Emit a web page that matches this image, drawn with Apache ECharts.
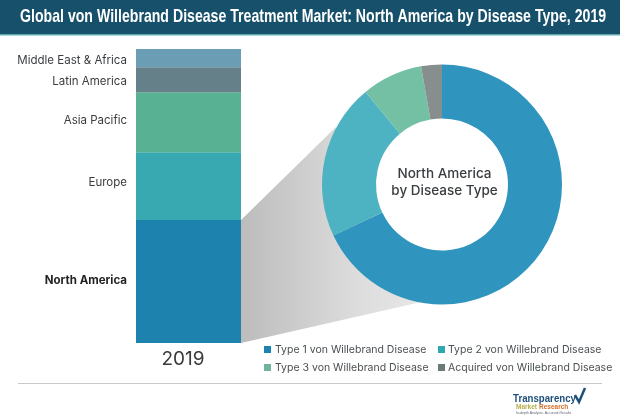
<!DOCTYPE html>
<html><head><meta charset="utf-8">
<style>html,body{margin:0;padding:0;background:#fff}#c{width:620px;height:420px}</style>
<script src="https://cdn.jsdelivr.net/npm/echarts@6/dist/echarts.min.js"></script>
</head><body><div id="c"></div>
<script>
const titleText = 'Global von Willebrand Disease Treatment Market: North America by Disease Type, 2019';
const years = ['2019'];
const regions = ['North America', 'Europe', 'Asia Pacific', 'Latin America', 'Middle East & Africa'];
const regionValues = [41.8, 23.1, 20.4, 8.5, 6.2];
const regionColors = ['#1d82ae', '#38a9b0', '#58b193', '#66808a', '#6b9db5'];
const regionLabelShift = [-1, -4, -2, 2, 2];
const diseaseTypes = ['Type 1 von Willebrand Disease', 'Type 2 von Willebrand Disease', 'Type 3 von Willebrand Disease', 'Acquired von Willebrand Disease'];
const diseaseValues = [68, 21, 8.2, 2.8];
const diseaseColors = ['#2f95bf', '#4db3c2', '#73c0a5', '#868e8e'];
const legendColors = ['#1d82ae', '#2fa9ad', '#6fb39c', '#6b7c78'];
const labelFont = 'Inter';

const chart = echarts.init(document.getElementById('c'), null, {renderer: 'canvas'});
const legendBase = {
  orient: 'vertical', itemWidth: 7, itemHeight: 7, itemGap: 5, icon: 'rect',
  textStyle: {fontFamily: labelFont, fontSize: 10.5, color: '#4a4f52', lineHeight: 13}
};
const legendItem = i => ({name: diseaseTypes[i], itemStyle: {color: legendColors[i]}});
chart.setOption({
  animation: false,
  backgroundColor: '#fff',
  grid: {left: 136, top: 49, width: 105, height: 294, containLabel: false},
  xAxis: {type: 'category', data: years, axisLine: {show: false}, axisTick: {show: false},
    axisLabel: {fontFamily: labelFont, fontSize: 19, color: '#3a3a3a', margin: 7, padding: [0, 11, 0, 0]}},
  yAxis: {type: 'value', min: 0, max: 100, show: false},
  title: {
    text: 'North America\nby Disease Type', left: 439.5, top: 160, textAlign: 'center',
    textStyle: {fontFamily: labelFont, fontSize: 13.5, fontWeight: 500, color: '#3a3d40', lineHeight: 17}
  },
  legend: [
    Object.assign({}, legendBase, {left: 259, top: 338, data: [legendItem(0), legendItem(2)],
      textStyle: Object.assign({}, legendBase.textStyle, {padding: [0, 0, 0, -1]})}),
    Object.assign({}, legendBase, {left: 433, top: 338, data: [legendItem(1), legendItem(3)],
      textStyle: Object.assign({}, legendBase.textStyle, {padding: [0, 0, 0, -2]})})
  ],
  series: regions.map((r, i) => ({
    type: 'bar', name: r, stack: 'total', barWidth: '100%', data: [regionValues[i]],
    itemStyle: {color: regionColors[i]}, silent: true,
    label: {show: true, position: 'left', distance: 9, formatter: r, offset: [0, regionLabelShift[i]],
      fontFamily: labelFont, fontSize: 11.5, color: i === 0 ? '#222' : '#3a3d40', fontWeight: i === 0 ? 700 : 400}
  })).concat([{
    type: 'pie', center: [442, 184.5], radius: [66, 120], startAngle: 90, clockwise: true,
    label: {show: false}, labelLine: {show: false},
    data: diseaseTypes.map((n, i) => ({name: n, value: diseaseValues[i], itemStyle: {color: diseaseColors[i]}}))
  }]),
  graphic: [
    {type: 'rect', shape: {x: 0, y: 0, width: 620, height: 34}, style: {fill: '#17506a'}},
    {type: 'rect', shape: {x: 0, y: 34, width: 620, height: 1.5}, style: {fill: '#5fa7b3'}},
    {type: 'text', x: 20, y: 7, scaleX: 0.831, scaleY: 1.12, style: {text: titleText, fill: '#fff',
      font: 'bold 17px "Liberation Sans"'}},
    {type: 'polygon', shape: {points: [[241, 220], [336, 127], [345, 184], [430, 300], [241, 343]]},
      style: {fill: new echarts.graphic.LinearGradient(0, 0, 1, 0, [
        {offset: 0, color: '#bcbcbc'}, {offset: 0.6, color: '#dcdcdc'}, {offset: 1, color: '#e8e8e8'}])}},
    {type: 'rect', shape: {x: 18, y: 383, width: 584, height: 1}, style: {fill: '#c9c9c9'}},
    {type: 'text', x: 513, y: 393, scaleX: 0.88, style: {text: 'Transparency', fill: '#1d4f7a',
      font: 'bold 11px "Liberation Sans"'}},
    {type: 'text', x: 516, y: 404, style: {text: 'Market', fill: '#b5b04a', font: 'bold 6.5px "Liberation Sans"'}},
    {type: 'text', x: 539, y: 404, style: {text: 'Research', fill: '#d0702a', font: 'bold 6.5px "Liberation Sans"'}},
    {type: 'text', x: 516, y: 411, style: {text: 'In-depth Analysis. Accurate Results', fill: '#667',
      font: '3.5px "Liberation Sans"'}},
    {type: 'polyline', shape: {points: [[575, 395], [579, 402], [585, 388]]},
      style: {stroke: '#1d4f7a', fill: 'none', lineWidth: 2.5}}
  ]
});
</script></body></html>
